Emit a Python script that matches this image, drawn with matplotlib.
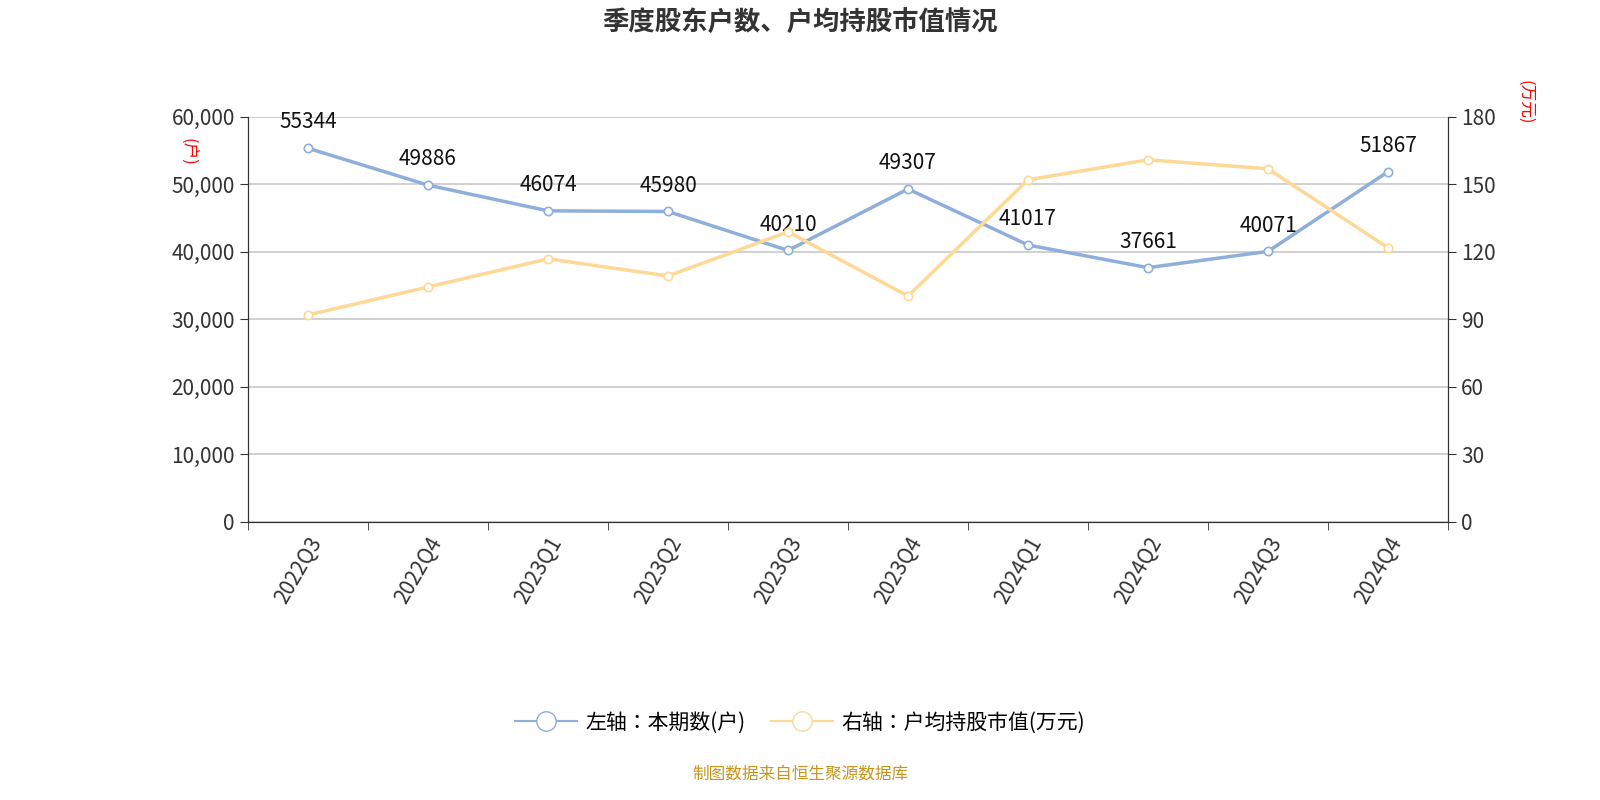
import matplotlib
matplotlib.use("Agg")
import matplotlib.pyplot as plt
from matplotlib import font_manager as fm
from matplotlib.lines import Line2D

cjk = [f.name for f in fm.fontManager.ttflist if "CJK" in f.name]
pref = [n for n in cjk if n.endswith("SC")] or cjk
plt.rcParams["font.family"] = "sans-serif"
plt.rcParams["font.sans-serif"] = (pref[:1] if pref else []) + ["Noto Sans CJK SC", "DejaVu Sans"]
plt.rcParams["axes.unicode_minus"] = False

quarters = ["2022Q3","2022Q4","2023Q1","2023Q2","2023Q3","2023Q4","2024Q1","2024Q2","2024Q3","2024Q4"]
holders = [55344,49886,46074,45980,40210,49307,41017,37661,40071,51867]
avg_value = [92.0,104.4,116.9,109.3,128.9,100.4,152.0,160.9,156.9,121.8]

blue = "#8eaedb"
yellow = "#fdd995"

fig = plt.figure(figsize=(16,8), dpi=100)
ax = fig.add_axes([0.155,0.3475,0.75,0.5065])
ax2 = ax.twinx()
x = list(range(len(quarters)))

ax.plot(x, holders, color=blue, lw=2.5, marker="o", ms=6, mfc="white", mec=blue, mew=1.2, zorder=3)
ax2.plot(x, avg_value, color=yellow, lw=2.5, marker="o", ms=6, mfc="white", mec=yellow, mew=1.2, zorder=3)
for xi, v in zip(x, holders):
    ax.text(xi, v+2200, str(v), ha="center", va="bottom", fontsize=15, color="#111111", zorder=5)

ax.set_xlim(-0.5, len(quarters)-0.5)
ax.set_ylim(0, 60000)
ax2.set_ylim(0, 180)
ax.set_yticks(range(0,60001,10000))
ax.set_yticklabels([f"{v:,}" for v in range(0,60001,10000)], fontsize=15, color="#333333")
ax2.set_yticks(range(0,181,30))
ax2.set_yticklabels([str(v) for v in range(0,181,30)], fontsize=15, color="#333333")
ax.set_xticks(x)
ax.set_xticklabels(quarters, rotation=60, ha="right", rotation_mode="anchor", fontsize=15, color="#333333")
ax.set_xticks([i-0.5 for i in range(len(quarters)+1)], minor=True)
ax.tick_params(axis="x", which="major", length=0, pad=8)
ax.tick_params(axis="x", which="minor", length=6, color="#333333")
ax.grid(axis="y", color="#c8c8c8", lw=1.2)
ax.set_axisbelow(True)
for a in (ax, ax2):
    a.spines["top"].set_visible(False)
    for s in ("left","right","bottom"):
        a.spines[s].set_color("#333333")
ax.tick_params(axis="y", length=6, color="#333333")
ax2.tick_params(axis="y", length=6, color="#333333")

fig.text(0.117, 0.81, "(户)", rotation=270, color="red", fontsize=12, ha="center", va="center")
fig.text(0.953, 0.872, "(万元)", rotation=270, color="red", fontsize=12, ha="center", va="center")

fig.text(0.5, 0.972, "季度股东户数、户均持股市值情况", ha="center", va="center", fontsize=19, fontweight="bold", color="#333333")

handles = [Line2D([],[],color=blue,lw=1.5,marker="o",ms=14,mfc="white",mec=blue),
           Line2D([],[],color=yellow,lw=1.5,marker="o",ms=14,mfc="white",mec=yellow)]
fig.legend(handles, ["左轴：本期数(户)","右轴：户均持股市值(万元)"], loc="center", bbox_to_anchor=(0.5,0.097),
           ncol=2, frameon=False, fontsize=15, handlelength=3, columnspacing=1.2, handletextpad=0.4)
fig.text(0.5, 0.033, "制图数据来自恒生聚源数据库", ha="center", va="center", fontsize=12, color="#c8961e")
fig.savefig("out.png")
